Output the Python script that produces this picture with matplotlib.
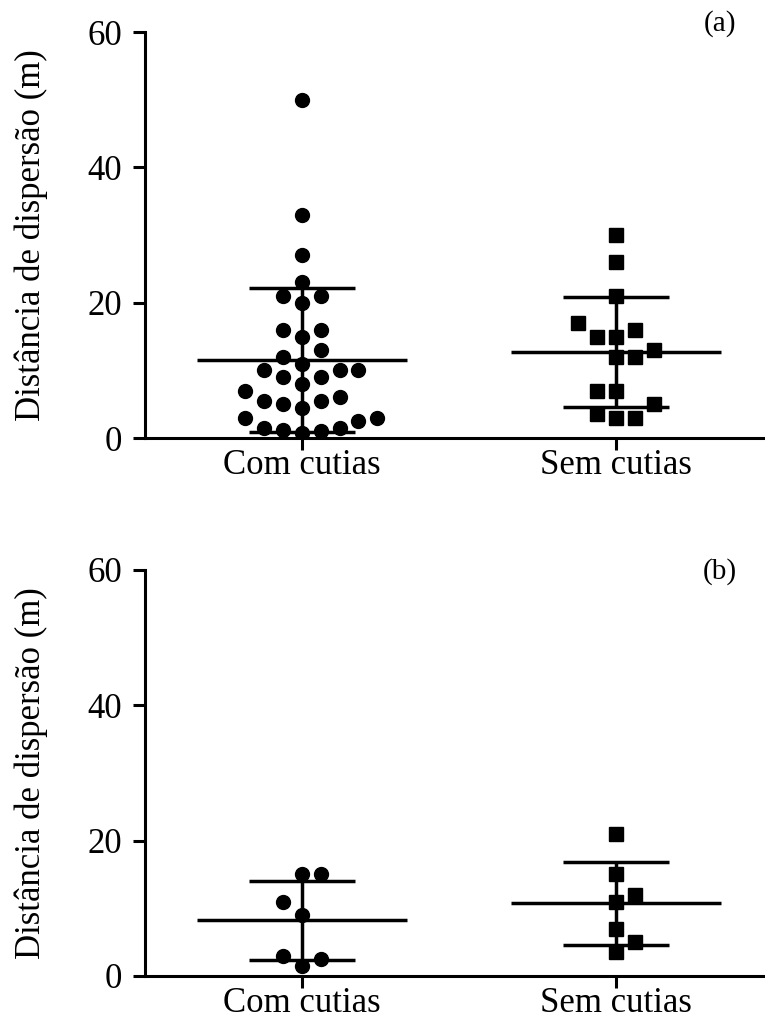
#!/usr/bin/env python
""" Distancia de dispersao, com e sem cutias """

import numpy as np
import matplotlib.pyplot as plt

plt.rcParams["font.family"] = ["Liberation Serif", "DejaVu Serif"]

groups = ["Com cutias", "Sem cutias"]
yticks = [0, 20, 40, 60]

# (a) distancias, na ordem usada pelo enxame
a_com = [50, 33, 27, 23, 20, 15, 11, 8, 4.5, 0.7,
         21, 21, 16, 16, 13, 12, 9, 9, 5.5, 5, 1, 1.2,
         10, 10, 6, 5.5, 1.5, 1.5,
         10, 7, 2.5, 3, 3]
a_sem = [30, 26, 21, 15, 12, 7, 3,
         16, 15, 12, 3, 7, 3.5, 5, 13, 17]
a_mean = [11.5, 12.75]
a_sd = [10.6, 8.15]

# (b)
b_com = [15, 9, 1.5, 15, 11, 2.5, 3]
b_sem = [21, 15, 11, 7, 3.5, 12, 5]
b_mean = [8.25, 10.75]
b_sd = [5.85, 6.15]


def swarm_offsets(values, gap=2.05, cap=4.5, step=0.06):
    """ Greedy column swarm: each point takes the nearest free column,
    preferring the side with more room, then the right side """
    cols = {}
    offs = []

    def room(v, s):
        dists = [abs(v - u) for u in cols.get(s, [])]
        return min(dists) if dists else np.inf

    for v in values:
        slot = 0
        for d in range(0, 12):
            cand = [0] if d == 0 else [d, -d]
            free = [s for s in cand if room(v, s) >= gap]
            if free:
                free.sort(key=lambda s: (-min(room(v, s), cap), -s))
                slot = free[0]
                break
        cols.setdefault(slot, []).append(v)
        offs.append(slot * step)
    return np.array(offs)


def panel(ax, com, sem, means, sds, tag, tag_y):
    for i, (vals, mk, ms) in enumerate([(com, "o", 10), (sem, "s", 9.5)]):
        pos = i + 1
        x = pos + swarm_offsets(vals)
        ax.plot(x, vals, ls="none", marker=mk, ms=ms, color="black", zorder=3)
        m, s = means[i], sds[i]
        ax.hlines(m, pos - 0.335, pos + 0.335, color="black", lw=2.5, zorder=4)
        ax.hlines([m - s, m + s], pos - 0.17, pos + 0.17, color="black", lw=2.5, zorder=4)
        ax.vlines(pos, m - s, m + s, color="black", lw=2.5, zorder=4)

    ax.set_xlim(0.5, 2.475)
    ax.set_ylim(0, 60)
    ax.set_xticks([1, 2])
    ax.set_xticklabels(groups)
    ax.set_yticks(yticks)
    ax.tick_params(direction="out", length=8.5, width=2.2, labelsize=25)
    ax.tick_params(axis="y", pad=8)
    ax.tick_params(axis="x", pad=-0.5)
    for side in ["top", "right"]:
        ax.spines[side].set_visible(False)
    for side in ["left", "bottom"]:
        ax.spines[side].set_linewidth(2.2)
    ax.set_ylabel("Distância de dispersão (m)", fontsize=25, labelpad=28)
    ax.text(0.927, tag_y, tag, transform=ax.transAxes, fontsize=21,
            ha="center", va="center")


def main():
    fig = plt.figure(figsize=(7.65, 10.27), dpi=100)
    ax1 = fig.add_axes([0.1895, 0.5735, 0.8105, 0.3953])
    ax2 = fig.add_axes([0.1895, 0.0497, 0.8105, 0.3953])
    panel(ax1, a_com, a_sem, a_mean, a_sd, "(a)", 1.022)
    panel(ax2, b_com, b_sem, b_mean, b_sd, "(b)", 0.995)
    fig.savefig("out.png", dpi=100)


if __name__ == "__main__":
    main()
